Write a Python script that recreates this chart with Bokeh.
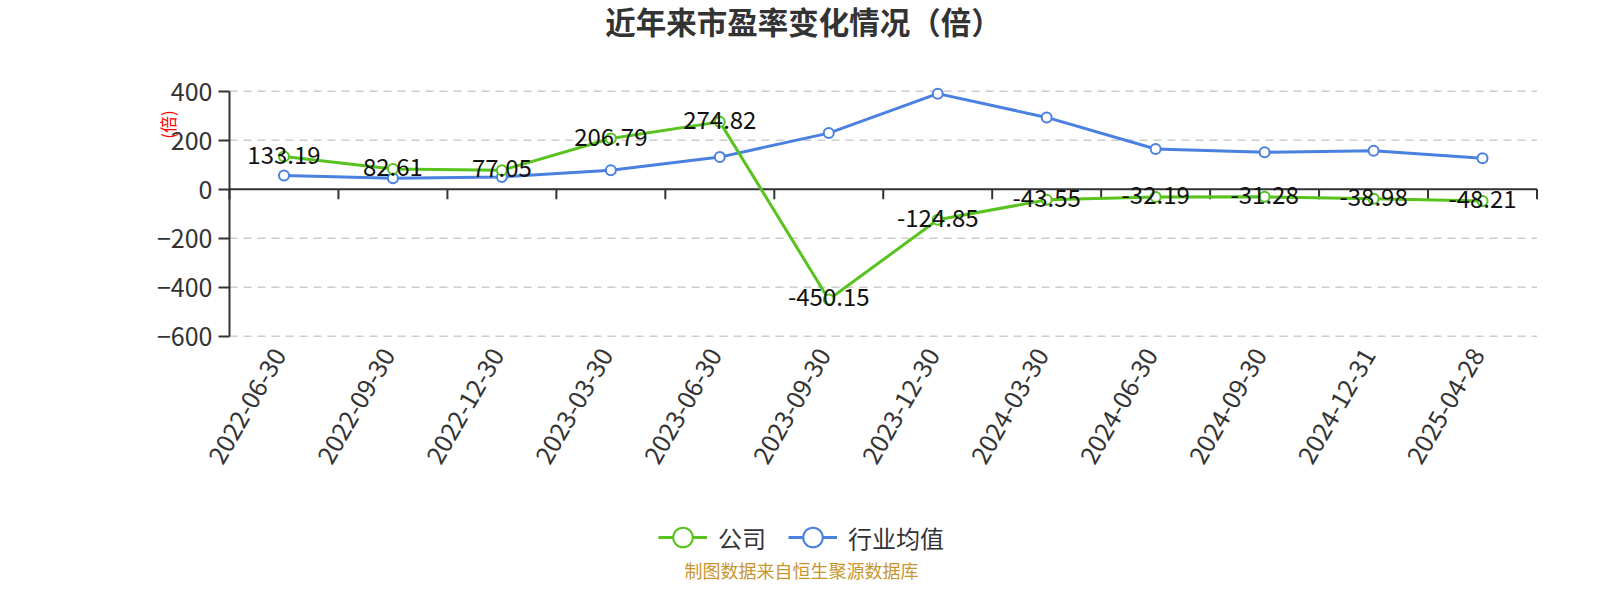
import math
from bokeh.plotting import figure
from bokeh.models import (Range1d, ColumnDataSource, LabelSet, Label,
                          Legend, LegendItem, FixedTicker)
from bokeh.core.properties import value
from bokeh.embed import file_html
from bokeh.resources import INLINE

# ---------------- data ----------------
categories = ["2022-06-30", "2022-09-30", "2022-12-30", "2023-03-30", "2023-06-30",
              "2023-09-30", "2023-12-30", "2024-03-30", "2024-06-30", "2024-09-30",
              "2024-12-31", "2025-04-28"]
company = [133.19, 82.61, 77.05, 206.79, 274.82, -450.15, -124.85, -43.55,
           -32.19, -31.28, -38.98, -48.21]
industry = [56, 45, 50, 77, 131, 229, 390, 293, 164, 151, 157, 126]
y_ticks = [-600, -400, -200, 0, 200, 400]
series_names = ["公司", "行业均值"]
title_text = "近年来市盈率变化情况（倍）"
unit_text = "(倍)"
source_text = "制图数据来自恒生聚源数据库"

# ---------------- layout (canvas pixels) ----------------
W, H = 1584, 584
FRAME_LEFT = 100                    # frame spans the canvas right of this
AX_L, AX_R = 229.0, 1536.5          # x extent of the category area
AX_T, AX_B = 90.7, 335.7            # y of 400 and -600
Y0, Y1 = -600, 400
N = len(categories)
FONT = "Noto Sans CJK SC"
GREEN = "#58c21e"
BLUE = "#4a80e0"
AXIS_C = "#333333"

px_per_cat = (AX_R - AX_L) / N
px_per_unit = (AX_B - AX_T) / (Y1 - Y0)
x_lo = -(AX_L - FRAME_LEFT) / px_per_cat
x_hi = N + (W - AX_R) / px_per_cat
y_hi = Y1 + AX_T / px_per_unit
y_lo = Y0 - (H - AX_B) / px_per_unit


def sx_to_x(sx):
    return (sx - AX_L) / px_per_cat


def sy_to_y(sy):
    return Y1 - (sy - AX_T) / px_per_unit


p = figure(width=W, height=H, x_range=Range1d(x_lo, x_hi), y_range=Range1d(y_lo, y_hi),
           output_backend="svg", toolbar_location=None, x_axis_location=None,
           min_border_left=FRAME_LEFT, min_border_right=0, min_border_top=0,
           min_border_bottom=0)
p.outline_line_color = None
p.background_fill_color = "white"
for g in p.grid:
    g.visible = False

# y axis, fixed at the left edge of the category area
p.yaxis.fixed_location = 0
p.yaxis.ticker = FixedTicker(ticks=y_ticks)
p.yaxis.bounds = (Y0, Y1)
p.yaxis.axis_line_color = AXIS_C
p.yaxis.axis_line_width = 2
p.yaxis.major_tick_line_color = AXIS_C
p.yaxis.major_tick_line_width = 2
p.yaxis.major_tick_out = 11
p.yaxis.major_tick_in = 0
p.yaxis.minor_tick_line_color = None
p.yaxis.major_label_text_font = FONT
p.yaxis.major_label_text_font_size = "25px"
p.yaxis.major_label_text_color = AXIS_C
p.yaxis.major_label_standoff = 6

# dashed horizontal grid over the category area
p.segment(x0=[0] * len(y_ticks), y0=y_ticks, x1=[N] * len(y_ticks), y1=y_ticks,
          line_color="#cccccc", line_width=1.5, line_dash="8 6")

# zero axis line with boundary ticks
p.segment(x0=[0], y0=[0], x1=[N], y1=[0], line_color=AXIS_C, line_width=2)
bounds = list(range(N + 1))
tick_len = 10 / px_per_unit
p.segment(x0=bounds, y0=[0] * len(bounds), x1=bounds, y1=[-tick_len] * len(bounds),
          line_color=AXIS_C, line_width=2)

xs = [i + 0.5 for i in range(N)]
src = ColumnDataSource(dict(x=xs, cat=categories, company=company, industry=industry,
                            txt=[f"{v:.2f}" for v in company], base=[Y0] * N))

bl = p.line("x", "industry", source=src, line_color=BLUE, line_width=3)
bs = p.scatter("x", "industry", source=src, size=10, fill_color="white",
               line_color=BLUE, line_width=2)
gl = p.line("x", "company", source=src, line_color=GREEN, line_width=3)
gs = p.scatter("x", "company", source=src, size=10, fill_color="white",
               line_color=GREEN, line_width=2)

# data labels
p.add_layout(LabelSet(x="x", y="company", text="txt", source=src, text_align="center",
                      text_baseline="middle", y_offset=2, text_font=value(FONT),
                      text_font_size="24px", text_color="#111111"))

# category labels, rotated 60 degrees below the value area
p.add_layout(LabelSet(x="x", y="base", text="cat", source=src, text_align="right",
                      text_baseline="middle", angle=math.pi / 3, x_offset=-5,
                      y_offset=-14, text_font=value(FONT), text_font_size="25px",
                      text_color=AXIS_C))

# title, unit, source
p.add_layout(Label(x=sx_to_x(803), y=sy_to_y(20), text=title_text, text_align="center",
                   text_baseline="middle", text_font=FONT, text_font_size="30.5px",
                   text_font_style="bold", text_color=AXIS_C))
p.add_layout(Label(x=sx_to_x(166.5), y=sy_to_y(124), text=unit_text, text_align="center",
                   text_baseline="middle", angle=math.pi / 2, text_font=FONT,
                   text_font_size="17px", text_color="red"))
p.add_layout(Label(x=sx_to_x(801), y=sy_to_y(569), text=source_text, text_align="center",
                   text_baseline="middle", text_font=FONT, text_font_size="18px",
                   text_color="#c8962d"))

# legend
LEG_H = 58
legend = Legend(items=[LegendItem(label=series_names[0], renderers=[gl, gs]),
                       LegendItem(label=series_names[1], renderers=[bl, bs])],
                orientation="horizontal",
                location=(658 - FRAME_LEFT, H - 537 - LEG_H // 2),
                background_fill_alpha=0, border_line_color=None, padding=0,
                glyph_width=49, glyph_height=LEG_H, label_height=LEG_H, spacing=22,
                label_standoff=11, label_text_font=FONT, label_text_font_size="24px",
                label_text_color=AXIS_C, margin=0)
p.add_layout(legend)

open("out.html", "w").write(file_html(p, INLINE))
